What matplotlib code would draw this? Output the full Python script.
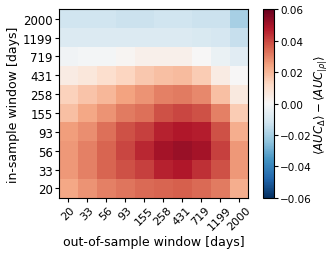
import numpy as np
import matplotlib
matplotlib.use("Agg")
import matplotlib.pyplot as plt

windows = ["20", "33", "56", "93", "155", "258", "431", "719", "1199", "2000"]
# rows: in-sample window (bottom 20 -> top 2000); columns: out-of-sample window
row_20   = [0.023, 0.027, 0.030, 0.032, 0.034, 0.035, 0.036, 0.034, 0.031, 0.022]
row_33   = [0.026, 0.030, 0.035, 0.038, 0.041, 0.046, 0.048, 0.044, 0.038, 0.026]
row_56   = [0.026, 0.030, 0.035, 0.040, 0.045, 0.050, 0.052, 0.050, 0.041, 0.026]
row_93   = [0.025, 0.028, 0.033, 0.038, 0.041, 0.046, 0.048, 0.047, 0.038, 0.022]
row_155  = [0.018, 0.023, 0.027, 0.031, 0.033, 0.038, 0.040, 0.038, 0.030, 0.015]
row_258  = [0.014, 0.017, 0.020, 0.024, 0.027, 0.030, 0.031, 0.029, 0.018, 0.006]
row_431  = [0.005, 0.007, 0.010, 0.013, 0.016, 0.018, 0.019, 0.015, 0.005, 0.000]
row_719  = [-0.002, -0.001, -0.001, 0.001, 0.003, 0.003, 0.003, 0.000, -0.004, -0.007]
row_1199 = [-0.008, -0.008, -0.008, -0.008, -0.008, -0.008, -0.008, -0.009, -0.010, -0.014]
row_2000 = [-0.012, -0.012, -0.012, -0.013, -0.013, -0.012, -0.012, -0.013, -0.013, -0.020]

data = np.array([row_20, row_33, row_56, row_93, row_155, row_258,
                 row_431, row_719, row_1199, row_2000])

fig = plt.figure(figsize=(3.33, 2.55), dpi=100)
ax = fig.add_axes([0.177, 0.22, 0.568, 0.74])
cax = fig.add_axes([0.79, 0.22, 0.033, 0.74])

im = ax.imshow(data, cmap="RdBu_r", vmin=-0.06, vmax=0.06, origin="lower", aspect="auto")
ax.set_xticks(range(len(windows)))
ax.set_xticklabels(windows, rotation=45, fontsize=8, ha="center", rotation_mode="default")
ax.set_yticks(range(len(windows)))
ax.set_yticklabels(windows, fontsize=8.5)
ax.tick_params(axis="both", length=3, pad=1.5)
ax.set_xlabel("out-of-sample window [days]", fontsize=9, labelpad=3)
ax.set_ylabel("in-sample window [days]", fontsize=9, labelpad=2)

cb = fig.colorbar(im, cax=cax)
cb.set_ticks([-0.06, -0.04, -0.02, 0.0, 0.02, 0.04, 0.06])
cb.ax.tick_params(labelsize=7.5, length=3, pad=1.5)
cb.set_label(r"$\langle AUC_{\Delta}\rangle - \langle AUC_{|\rho|}\rangle$", fontsize=8.5, labelpad=0)

fig.savefig("out.png", dpi=100)
